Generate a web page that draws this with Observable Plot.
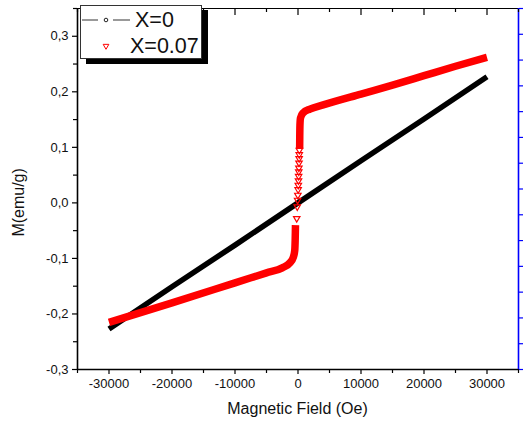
<!DOCTYPE html>
<html>
<head>
<meta charset="utf-8">
<script src="https://cdn.jsdelivr.net/npm/d3@7"></script>
<script src="https://cdn.jsdelivr.net/npm/@observablehq/plot@0.6"></script>
<style>
  html, body { margin: 0; padding: 0; background: #fff; }
  #chart { width: 524px; height: 425px; }
  svg { font-family: "Liberation Sans", Arial, sans-serif; }
</style>
</head>
<body>
<div id="chart"></div>
<script>
// ---- Data ----
// Series X=0 (black): linear response
const h0 = [-30000, -20000, -10000, 0, 10000, 20000, 30000];
const m0 = [-0.227, -0.151, -0.076, 0.0, 0.076, 0.151, 0.227];

// Series X=0.07 (red): lower branch (dense part)
const hLow = [-30000, -20000, -10000, -5000, -2500, -1300, -750, -520, -450, -420, -400];
const mLow = [-0.215, -0.180, -0.144, -0.126, -0.117, -0.108, -0.098, -0.086, -0.068, -0.052, -0.040];
// upper branch (dense part)
const hHigh = [260, 280, 310, 400, 800, 1900, 4000, 10000, 15000, 20000, 25000, 30000];
const mHigh = [0.097, 0.120, 0.140, 0.153, 0.162, 0.169, 0.1765, 0.196, 0.212, 0.229, 0.246, 0.262];
// sparse points along the steep jump
const hJump = [220, 200, 180, 160, 140, 120, 100, 80, 50, 20, -20, -60, -120, -200];
const mJump = [0.095, 0.087, 0.080, 0.072, 0.063, 0.056, 0.048, 0.040, 0.032, 0.024, 0.014, 0.005, -0.007, -0.028];

// Axes
const xDomain = [-35000, 35000];
const yDomain = [-0.3, 0.35];
const xMajor = [-30000, -20000, -10000, 0, 10000, 20000, 30000];
const xMinor = [-35000, -25000, -15000, -5000, 5000, 15000, 25000, 35000];
const yMajor = [-0.3, -0.2, -0.1, 0.0, 0.1, 0.2, 0.3];
const yMinor = [-0.25, -0.15, -0.05, 0.05, 0.15, 0.25, 0.35];
const rightAxisDivisions = 14;

const xLabel = "Magnetic Field (Oe)";
const yLabel = "M(emu/g)";
const seriesNames = ["X=0", "X=0.07"];

// ---- Build tables ----
const black = h0.map((h, i) => ({h, m: m0[i]}));
const red = [
  ...hLow.map((h, i) => ({h, m: mLow[i], part: "low"})),
  ...hHigh.map((h, i) => ({h, m: mHigh[i], part: "high"}))
];
const jump = hJump.map((h, i) => ({h, m: mJump[i]}));
const rightTicks = d3.range(rightAxisDivisions + 1).map(i => yDomain[0] + i * (yDomain[1] - yDomain[0]) / rightAxisDivisions);

const fmtY = d => d.toFixed(1).replace(".", ",");
const fmtX = d => String(d);

const plot = Plot.plot({
  width: 524,
  height: 425,
  marginLeft: 77,
  marginRight: 6,
  marginTop: 8,
  marginBottom: 56,
  style: {fontFamily: '"Liberation Sans", Arial, sans-serif', fontSize: "13px", color: "#111", background: "#fff"},
  x: {domain: xDomain},
  y: {domain: yDomain},
  marks: [
    // data
    Plot.line(black, {x: "h", y: "m", stroke: "black", strokeWidth: 5.5, strokeLinecap: "butt"}),
    Plot.line(red, {x: "h", y: "m", z: "part", curve: "monotone-x", stroke: "#ff0000", strokeWidth: 7.5, strokeLinecap: "butt", strokeLinejoin: "round"}),
    Plot.dot(jump, {x: "h", y: "m", symbol: "triangle", rotate: 180, r: 2.4, stroke: "#ff0000", strokeWidth: 1.2, fill: "none"}),
    // frame lines
    Plot.ruleY([yDomain[0]], {stroke: "black", strokeWidth: 1.6}),
    Plot.ruleY([yDomain[1]], {stroke: "black", strokeWidth: 1.2}),
    Plot.ruleX([xDomain[0]], {stroke: "black", strokeWidth: 1.6}),
    Plot.ruleX([xDomain[1]], {stroke: "blue", strokeWidth: 1.6}),
    // bottom axis
    Plot.axisX(xMajor, {anchor: "bottom", tickSize: 5, tickPadding: 4, tickFormat: fmtX, label: null, fontSize: 13, stroke: "black", strokeWidth: 1.2}),
    Plot.axisX(xMinor, {anchor: "bottom", tickSize: 4, tickFormat: () => "", label: null, stroke: "black", strokeWidth: 1.2}),
    // top axis (inward ticks)
    Plot.axisX(xMajor, {anchor: "top", tickSize: -6, tickFormat: () => "", label: null, stroke: "black", strokeWidth: 1.2}),
    Plot.axisX(xMinor, {anchor: "top", tickSize: -3, tickFormat: () => "", label: null, stroke: "black", strokeWidth: 1.2}),
    // left axis
    Plot.axisY(yMajor, {anchor: "left", tickSize: 5, tickPadding: 4, tickFormat: fmtY, label: null, fontSize: 13, stroke: "black", strokeWidth: 1.2}),
    Plot.axisY(yMinor, {anchor: "left", tickSize: 4, tickFormat: () => "", label: null, stroke: "black", strokeWidth: 1.2}),
    // right axis (blue)
    Plot.axisY(rightTicks, {anchor: "right", tickSize: 4, tickFormat: () => "", label: null, stroke: "blue", strokeWidth: 1.2})
  ]
});

document.getElementById("chart").appendChild(plot);

// ---- Axis titles and legend ----
const svg = d3.select(plot);
const xs = plot.scale("x"), ys = plot.scale("y");
const cx = (xs.range[0] + xs.range[1]) / 2;

function label(sel, size, anchor) {
  return sel.style("font-size", size + "px").style("text-anchor", anchor)
    .style("font-family", '"Liberation Sans", Arial, sans-serif').attr("fill", "#111");
}

label(svg.append("text").attr("x", cx).attr("y", 414), 16, "middle").text(xLabel);
label(svg.append("text").attr("transform", `translate(24, ${ys.apply(0)}) rotate(-90)`), 16, "middle").text(yLabel);

const lg = svg.append("g");
lg.append("rect").attr("x", 86).attr("y", 10).attr("width", 122).attr("height", 54).attr("fill", "black");
lg.append("rect").attr("x", 80.5).attr("y", 5.5).attr("width", 121).attr("height", 53).attr("fill", "white").attr("stroke", "#333").attr("stroke-width", 1);
lg.append("line").attr("x1", 82).attr("x2", 98).attr("y1", 20).attr("y2", 20).attr("stroke", "#555").attr("stroke-width", 1.2);
lg.append("line").attr("x1", 113).attr("x2", 130).attr("y1", 20).attr("y2", 20).attr("stroke", "#555").attr("stroke-width", 1.2);
lg.append("circle").attr("cx", 106).attr("cy", 20).attr("r", 1.8).attr("fill", "none").attr("stroke", "#222").attr("stroke-width", 1);
lg.append("path").attr("d", d3.symbol(d3.symbolTriangle, 14)()).attr("transform", "translate(106,46) rotate(180)")
  .attr("fill", "none").attr("stroke", "#ff0000").attr("stroke-width", 1);
label(lg.append("text").attr("x", 135).attr("y", 27), 21.5, "start").text(seriesNames[0]);
label(lg.append("text").attr("x", 130).attr("y", 53), 21.5, "start").text(seriesNames[1]);
</script>
</body>
</html>
